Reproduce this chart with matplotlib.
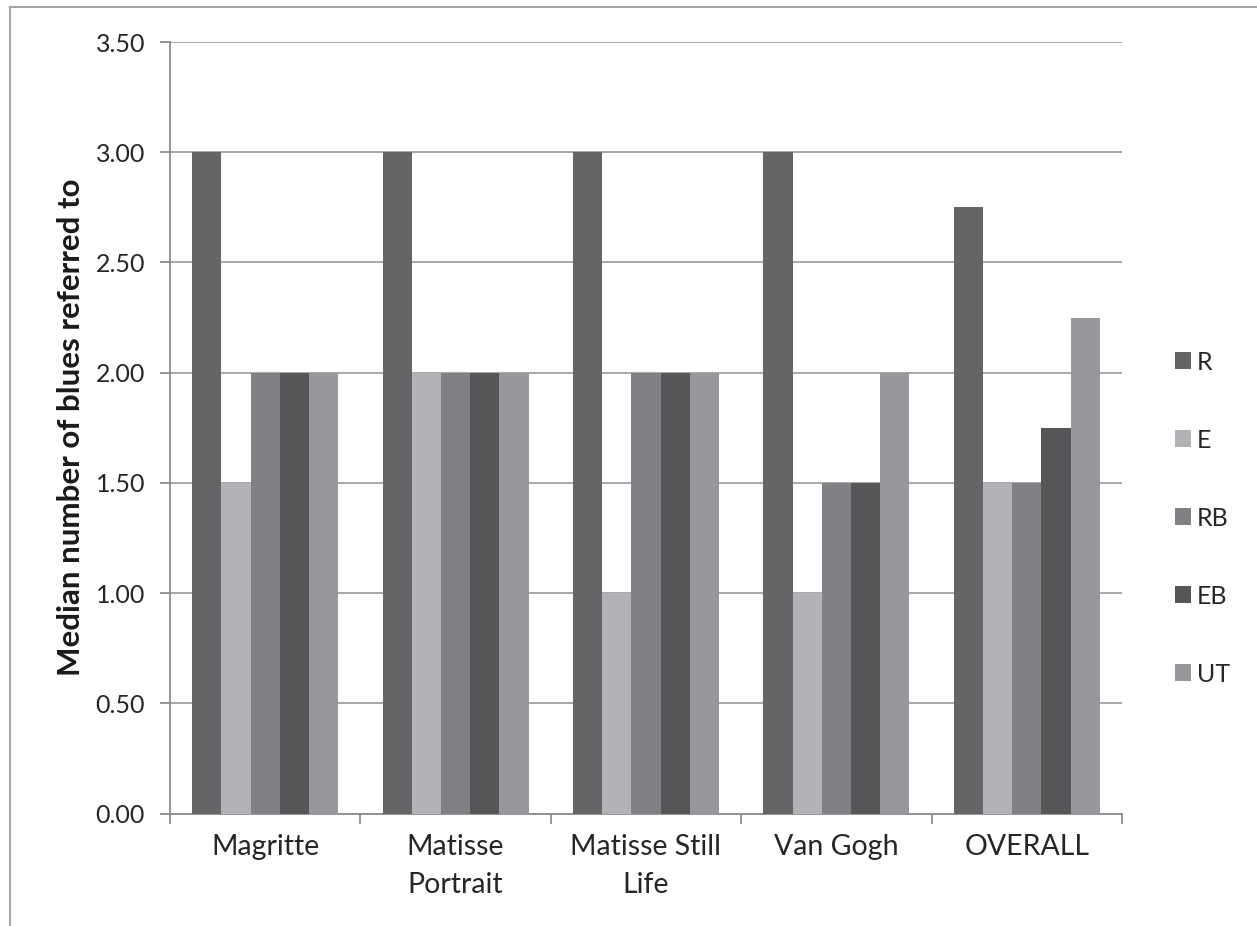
import matplotlib
matplotlib.use("Agg")
import matplotlib.pyplot as plt
from matplotlib.lines import Line2D
from matplotlib.patches import Patch
import numpy as np

plt.rcParams['font.family'] = ['Lato', 'DejaVu Sans']

# data
categories = ["Magritte", "Matisse\nPortrait", "Matisse Still\nLife", "Van Gogh", "OVERALL"]
series_names = ["R", "E", "RB", "EB", "UT"]
r_vals = [3.0, 3.0, 3.0, 3.0, 2.75]
e_vals = [1.5, 2.0, 1.0, 1.0, 1.5]
rb_vals = [2.0, 2.0, 2.0, 1.5, 1.5]
eb_vals = [2.0, 2.0, 2.0, 1.5, 1.75]
ut_vals = [2.0, 2.0, 2.0, 2.0, 2.25]
colors = ["#646567", "#b2b3b6", "#808184", "#555658", "#97989b"]

W, H = 1257, 926
fig = plt.figure(figsize=(W / 100, H / 100), dpi=100)
ax = fig.add_axes([170 / W, 1 - 813.5 / H, (1122 - 170) / W, (813.5 - 42) / H])

# outer chart frame (cut off at right/bottom)
frame_col = "#a6a6a6"
fig.add_artist(Line2D([10 / W, 10 / W], [0, 1 - 7 / H], color=frame_col, lw=1.5))
fig.add_artist(Line2D([10 / W, 1], [1 - 7 / H, 1 - 7 / H], color=frame_col, lw=1.5))

all_vals = [r_vals, e_vals, rb_vals, eb_vals, ut_vals]
x = np.arange(len(categories))
bw = 0.767 / 5
for i, (vals, name, c) in enumerate(zip(all_vals, series_names, colors)):
    ax.bar(x + (i - 2) * bw, vals, width=bw, color=c, label=name, zorder=3)

ax.set_xlim(-0.5, len(categories) - 0.5)
ax.set_ylim(0, 3.5)
ax.set_yticks(np.arange(0, 3.51, 0.5))
ax.set_yticklabels([f"{v:.2f}" for v in np.arange(0, 3.51, 0.5)])
ax.yaxis.grid(True, color="#a0a0a0", lw=1.3, zorder=0)
ax.set_axisbelow(True)

for s in ["top", "right"]:
    ax.spines[s].set_visible(False)
for s in ["left", "bottom"]:
    ax.spines[s].set_color("#8c8c8c")
    ax.spines[s].set_linewidth(1.3)

ax.tick_params(axis="y", length=7, width=1.3, color="#8c8c8c", pad=11,
               labelsize=18, labelcolor="#262626")
ax.set_xticks(x)
ax.set_xticklabels(categories, linespacing=1.56)
ax.tick_params(axis="x", which="major", length=0, pad=15, labelsize=20.5, labelcolor="#262626")
ax.set_xticks(np.arange(-0.5, len(categories)), minor=True)
ax.tick_params(axis="x", which="minor", length=7, width=1.3, color="#8c8c8c", direction="out")

ax.set_ylabel("Median number of blues referred to", fontsize=22.5, fontweight="bold", color="#1a1a1a")
ax.yaxis.set_label_coords(-0.089, 0.5)

handles = [Patch(facecolor=c, label=n) for c, n in zip(colors, series_names)]
fig.legend(handles=handles, loc="center left", bbox_to_anchor=(1152 / W, 1 - 518 / H),
           frameon=False, fontsize=18, handlelength=0.65, handleheight=0.65,
           handletextpad=0.25, labelspacing=2.2, labelcolor="#262626")

fig.savefig("out.png", dpi=100)
